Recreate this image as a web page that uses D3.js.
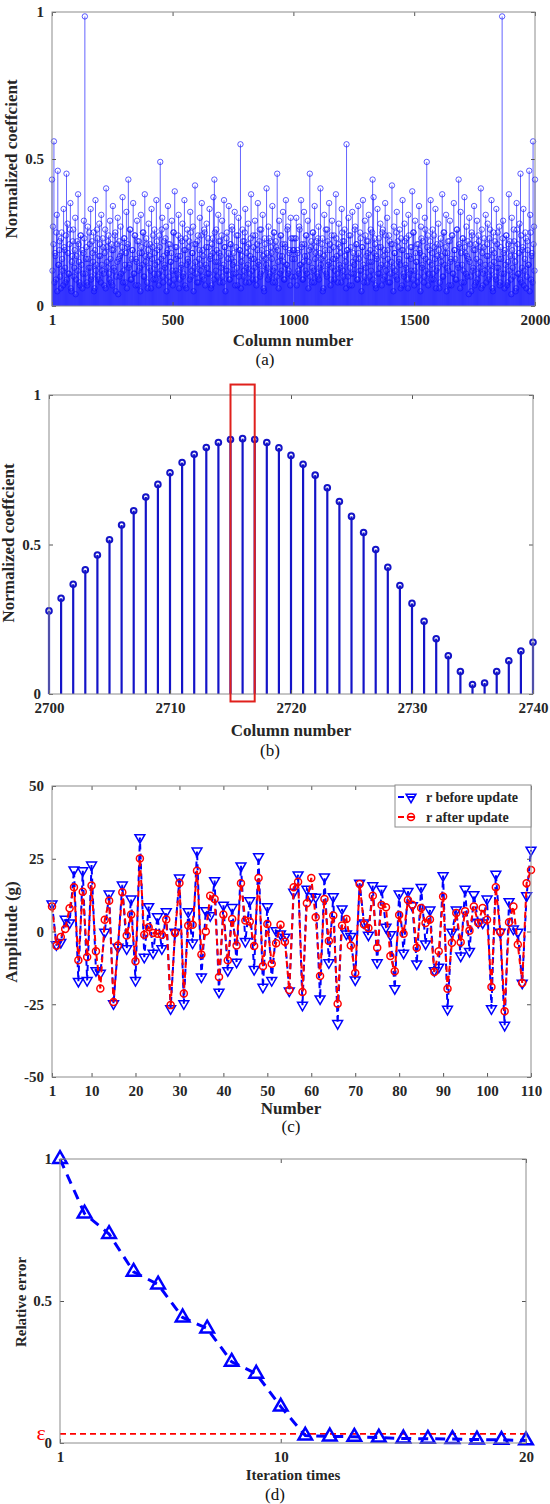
<!DOCTYPE html>
<html>
<head>
<meta charset="utf-8">
<script src="https://cdn.jsdelivr.net/npm/d3@7"></script>
<style>
  body { margin: 0; background: #fff; }
  text { font-family: "Liberation Serif", "Times New Roman", serif; }
</style>
</head>
<body>
<svg id="fig" width="550" height="1504"></svg>
<script>
// ---------- data ----------
// (a) spectrum is symmetric about the middle column, so only the left half is read
// values for columns 1,5,9,...,997 (mirrored onto 2000,1996,...,1004)
const aLeft = [
  0.43,0.27,0.56,0.18,0.09,0.31,0.46,0.14,0.22,0.06,
  0.25,0.12,0.33,0.19,0.08,0.45,0.28,0.11,0.21,0.35,
  0.05,0.17,0.26,0.13,0.30,0.09,0.22,0.38,0.15,0.07,
  0.24,0.19,0.11,0.29,0.985,0.16,0.08,0.27,0.13,0.21,
  0.33,0.10,0.18,0.25,0.06,0.36,0.14,0.23,0.09,0.28,
  0.17,0.31,0.12,0.20,0.07,0.26,0.40,0.15,0.22,0.11,
  0.29,0.08,0.19,0.34,0.13,0.24,0.05,0.21,0.30,0.16,
  0.10,0.27,0.18,0.37,0.12,0.23,0.08,0.32,0.20,0.43,
  0.14,0.26,0.09,0.19,0.35,0.11,0.24,0.16,0.29,0.07,
  0.22,0.13,0.31,0.18,0.25,0.10,0.38,0.15,0.21,0.06,
  0.28,0.17,0.12,0.33,0.20,0.09,0.26,0.14,0.36,0.19,
  0.11,0.24,0.49,0.16,0.30,0.08,0.22,0.13,0.27,0.18,
  0.34,0.10,0.21,0.15,0.29,0.07,0.25,0.39,0.12,0.20,
  0.17,0.31,0.09,0.23,0.14,0.28,0.11,0.36,0.19,0.06,
  0.26,0.15,0.22,0.32,0.10,0.18,0.27,0.13,0.41,0.21,
  0.08,0.24,0.16,0.30,0.12,0.35,0.19,0.09,0.25,0.14,
  0.28,0.11,0.20,0.33,0.17,0.07,0.23,0.37,0.43,0.15,
  0.26,0.10,0.31,0.18,0.22,0.13,0.29,0.08,0.36,0.20,
  0.12,0.25,0.16,0.34,0.09,0.21,0.27,0.14,0.18,0.32,
  0.11,0.24,0.07,0.30,0.19,0.55,0.15,0.26,0.10,0.22,
  0.33,0.13,0.20,0.28,0.08,0.17,0.38,0.12,0.24,0.16,
  0.29,0.09,0.21,0.35,0.14,0.26,0.11,0.19,0.31,0.06,
  0.23,0.16,0.40,0.13,0.27,0.10,0.22,0.18,0.34,0.12,
  0.25,0.08,0.20,0.45,0.15,0.29,0.11,0.24,0.17,0.32,
  0.09,0.21,0.36,0.14,0.27,0.12,0.19,0.30,0.10,0.23
];
// values for columns 3,7,11,...,999 (mirrored onto 1998,1994,...,1002)
const aLeft2 = [
  0.12,0.21,0.08,0.17,0.25,0.05,0.14,0.19,0.10,0.23,
  0.16,0.07,0.20,0.13,0.24,0.09,0.18,0.11,0.26,0.06,
  0.15,0.22,0.10,0.19,0.04,0.17,0.12,0.21,0.08,0.24,
  0.14,0.06,0.18,0.23,0.11,0.20,0.07,0.16,0.25,0.13,
  0.09,0.22,0.15,0.05,0.19,0.12,0.26,0.10,0.17,0.21,
  0.08,0.14,0.23,0.11,0.18,0.06,0.20,0.13,0.24,0.09,
  0.16,0.21,0.07,0.19,0.12,0.25,0.10,0.15,0.04,0.22,
  0.17,0.11,0.20,0.08,0.23,0.14,0.18,0.06,0.21,0.13,
  0.26,0.09,0.16,0.19,0.11,0.24,0.07,0.15,0.22,0.12,
  0.18,0.05,0.20,0.14,0.25,0.10,0.17,0.23,0.08,0.19,
  0.13,0.21,0.06,0.16,0.24,0.11,0.18,0.09,0.22,0.15,
  0.07,0.20,0.12,0.26,0.10,0.17,0.14,0.23,0.05,0.19,
  0.21,0.08,0.15,0.18,0.12,0.25,0.09,0.20,0.16,0.11,
  0.24,0.06,0.17,0.13,0.22,0.10,0.19,0.07,0.23,0.14,
  0.16,0.20,0.09,0.25,0.12,0.18,0.05,0.21,0.15,0.11,
  0.22,0.08,0.19,0.14,0.24,0.10,0.17,0.26,0.07,0.20,
  0.13,0.23,0.11,0.16,0.06,0.21,0.18,0.09,0.25,0.12,
  0.19,0.15,0.22,0.08,0.17,0.24,0.10,0.14,0.20,0.05,
  0.23,0.12,0.18,0.09,0.21,0.16,0.26,0.11,0.15,0.07,
  0.20,0.13,0.24,0.10,0.19,0.06,0.17,0.22,0.12,0.25,
  0.08,0.18,0.14,0.21,0.11,0.23,0.16,0.09,0.20,0.13,
  0.24,0.07,0.19,0.15,0.22,0.10,0.26,0.12,0.17,0.05,
  0.21,0.14,0.18,0.09,0.23,0.11,0.20,0.16,0.08,0.25,
  0.13,0.22,0.10,0.19,0.06,0.17,0.24,0.12,0.21,0.15,
  0.09,0.20,0.14,0.26,0.11,0.18,0.07,0.23,0.16,0.19
];
const aTicks = [1, 500, 1000, 1500, 2000];

// (b)
const bCols = d3.range(2700, 2741);
const bVals = [0.278,0.32,0.367,0.415,0.465,0.516,0.565,0.613,0.659,0.701,
  0.74,0.774,0.802,0.824,0.841,0.851,0.854,0.851,0.841,0.823,
  0.798,0.768,0.732,0.69,0.644,0.594,0.54,0.483,0.424,0.363,
  0.303,0.243,0.185,0.128,0.075,0.032,0.037,0.075,0.111,0.144,0.173];
const bTicks = [2700, 2710, 2720, 2730, 2740];
const bBox = {x0: 2715, x1: 2717, y0: -0.025, y1: 1.035};

// (c)
const cBefore = [9.5,-4.5,-3.7,4.3,3.0,21.2,-17.1,20.9,-16.8,22.9,
  -13.4,-14.3,-0.2,12.9,-24.8,-5.4,16.0,-5.9,11.2,-16.8,
  32.3,-8.8,8.6,-7.4,5.1,-5.9,6.8,-26.5,-0.2,18.4,
  -24.8,6.8,-3.9,27.7,-15.6,7.2,5.5,17.5,-20.8,9.1,
  -13.4,8.3,-10.5,22.6,-3.4,10.6,-13.0,25.7,-19.1,8.6,
  -16.8,0.3,-0.8,-1.9,-20.4,13.5,19.5,-25.3,14.6,12.0,
  11.8,-23.1,18.8,-10.7,12.0,-31.6,7.8,-0.8,-1.7,-16.6,
  16.6,3.0,-1.2,15.8,-10.7,14.6,1.5,-1.1,-19.6,12.9,
  -7.4,13.8,8.9,-11.1,15.2,-4.2,7.4,-13.4,-12.2,19.2,
  -26.7,-0.2,7.4,-8.4,14.6,-6.8,12.7,3.2,3.0,11.2,
  -26.5,19.7,-0.2,-32.2,10.3,0.9,-0.2,-17.7,12.3,28.0];
const cAfter = [8.6,-4.9,-1.9,0.9,8.0,15.2,-9.9,13.7,-8.8,15.8,
  -6.8,-19.6,4.0,10.6,-24.2,-4.8,13.5,-1.4,5.8,-10.2,
  25.1,-1.1,1.5,-0.5,-0.8,-1.1,4.1,-25.3,-0.5,16.7,
  -21.3,2.1,2.3,20.9,-7.9,0.0,12.3,11.2,-15.6,5.8,
  -9.9,4.3,-4.8,16.6,3.8,3.4,-5.0,18.4,-11.9,2.6,
  -11.1,-4.0,2.3,-3.5,-20.1,15.2,17.1,-20.8,9.7,18.4,
  4.9,-15.3,11.2,-3.3,5.5,-24.8,2.1,4.3,-4.8,-14.3,
  16.3,2.4,1.2,12.3,-5.6,9.1,8.3,-8.4,-13.7,5.7,
  -0.8,10.8,9.2,-5.6,8.1,2.9,4.1,-13.9,-6.8,12.0,
  -19.7,-3.9,6.4,-3.7,7.0,0.3,8.6,2.9,8.1,4.0,
  -19.1,15.2,-0.2,-27.4,3.2,8.6,-4.5,-17.7,16.6,21.1];
const cTicksX = [1, 10, 20, 30, 40, 50, 60, 70, 80, 90, 100, 110];
const cTicksY = [-50, -25, 0, 25, 50];
const cLegend = ["r before update", "r after update"];

// (d)
const dErr = [1.0,0.808,0.736,0.603,0.558,0.442,0.403,0.286,0.244,0.128,
  0.026,0.023,0.022,0.019,0.016,0.015,0.014,0.012,0.011,0.009];
const dEps = 0.032;
const dTicks = [1, 10, 20];

// ---------- helpers ----------
const svg = d3.select("#fig");
const FONT = '"Liberation Serif", "Times New Roman", serif';
const ink = "#262626";

function frame(g, x, y, xt, yt) {
  const [l, r] = x.range(), [b, t] = y.range();
  const fmt = d => String(d);
  g.append("g").attr("transform", `translate(0,${b})`)
    .call(d3.axisBottom(x).tickValues(xt).tickSize(-4).tickPadding(8).tickFormat(fmt));
  g.append("g").attr("transform", `translate(0,${t})`)
    .call(d3.axisTop(x).tickValues(xt).tickSize(-4).tickFormat(""));
  g.append("g").attr("transform", `translate(${l},0)`)
    .call(d3.axisLeft(y).tickValues(yt).tickSize(-4).tickPadding(8).tickFormat(fmt));
  g.append("g").attr("transform", `translate(${r},0)`)
    .call(d3.axisRight(y).tickValues(yt).tickSize(-4).tickFormat(""));
  g.selectAll(".domain").remove();
  g.selectAll(".tick line").attr("stroke", "#555");
  g.selectAll(".tick text").attr("font-family", FONT).attr("font-size", 15)
    .attr("font-weight", "bold").attr("fill", ink);
  g.append("rect").attr("x", l).attr("y", t).attr("width", r - l).attr("height", b - t)
    .attr("fill", "none").attr("stroke", "#8c8c8c").attr("stroke-width", 1);
}

function titles(g, xt, xx, xy, yt, yx, yy, caption, cx, cy, fs) {
  g.append("text").attr("x", xx).attr("y", xy).attr("text-anchor", "middle")
    .attr("font-size", fs).attr("font-weight", "bold").attr("fill", ink).text(xt);
  g.append("text").attr("transform", `translate(${yx},${yy}) rotate(-90)`)
    .attr("text-anchor", "middle").attr("font-size", fs).attr("font-weight", "bold")
    .attr("fill", ink).text(yt);
  g.append("text").attr("x", cx).attr("y", cy).attr("text-anchor", "middle")
    .attr("font-size", 17).attr("fill", "#111").text(caption);
}

// ---------- (a) ----------
{
  const g = svg.append("g");
  const x = d3.scaleLinear().domain([1, 2000]).range([52, 535]);
  const y = d3.scaleLinear().domain([0, 1]).range([306, 12]);
  const aData = [];
  aLeft.forEach((v, i) => {
    aData.push({c: 1 + 4 * i, v: v});
    aData.push({c: 2000 - 4 * i, v: v});
  });
  aLeft2.forEach((v, i) => {
    aData.push({c: 3 + 4 * i, v: v});
    aData.push({c: 1998 - 4 * i, v: v});
  });
  g.append("g").selectAll("line").data(aData).join("line")
    .attr("x1", d => x(d.c)).attr("x2", d => x(d.c))
    .attr("y1", y(0)).attr("y2", d => y(d.v))
    .attr("stroke", "#0a0aff").attr("stroke-width", 0.9).attr("stroke-opacity", 0.7);
  g.append("g").selectAll("circle").data(aData).join("circle")
    .attr("cx", d => x(d.c)).attr("cy", d => y(d.v)).attr("r", 2.7)
    .attr("fill", "none").attr("stroke", "#1010ff").attr("stroke-width", 0.8)
    .attr("stroke-opacity", 0.85);
  frame(g, x, y, aTicks, [0, 0.5, 1]);
  titles(g, "Column number", 293, 346, "Normalized coeffcient", 17, 159, "(a)", 265, 365, 17);
}

// ---------- (b) ----------
{
  const g = svg.append("g");
  const x = d3.scaleLinear().domain([2700, 2740]).range([49, 533]);
  const y = d3.scaleLinear().domain([0, 1]).range([694, 395]);
  const bData = bCols.map((c, i) => ({c: c, v: bVals[i]}));
  g.append("g").selectAll("line").data(bData).join("line")
    .attr("x1", d => x(d.c)).attr("x2", d => x(d.c))
    .attr("y1", y(0)).attr("y2", d => y(d.v))
    .attr("stroke", "#1414c8").attr("stroke-width", 2.2);
  g.append("g").selectAll("circle").data(bData).join("circle")
    .attr("cx", d => x(d.c)).attr("cy", d => y(d.v)).attr("r", 2.8)
    .attr("fill", "none").attr("stroke", "#1414c8").attr("stroke-width", 2);
  frame(g, x, y, bTicks, [0, 0.5, 1]);
  g.append("rect").attr("x", x(bBox.x0)).attr("y", y(bBox.y1))
    .attr("width", x(bBox.x1) - x(bBox.x0)).attr("height", y(bBox.y0) - y(bBox.y1))
    .attr("fill", "none").attr("stroke", "#e0201c").attr("stroke-width", 2);
  titles(g, "Column number", 291, 736, "Normalized coeffcient", 14, 543, "(b)", 270, 756, 17);
}

// ---------- (c) ----------
{
  const g = svg.append("g");
  const x = d3.scaleLinear().domain([1, 110]).range([52, 531]);
  const y = d3.scaleLinear().domain([-50, 50]).range([1077, 786]);
  const line = d3.line().x((d, i) => x(i + 1)).y(d => y(d));
  const tri = d3.symbol().type(d3.symbolTriangle).size(42);
  g.append("path").datum(cBefore).attr("d", line).attr("fill", "none")
    .attr("stroke", "#0000ff").attr("stroke-width", 2).attr("stroke-dasharray", "6,4");
  g.append("g").selectAll("path").data(cBefore).join("path")
    .attr("d", tri).attr("transform", (d, i) => `translate(${x(i + 1)},${y(d)}) rotate(180)`)
    .attr("fill", "none").attr("stroke", "#0000ff").attr("stroke-width", 1.5);
  g.append("path").datum(cAfter).attr("d", line).attr("fill", "none")
    .attr("stroke", "#ff0000").attr("stroke-width", 2).attr("stroke-dasharray", "6,4");
  g.append("g").selectAll("circle").data(cAfter).join("circle")
    .attr("cx", (d, i) => x(i + 1)).attr("cy", d => y(d)).attr("r", 3.5)
    .attr("fill", "none").attr("stroke", "#ff0000").attr("stroke-width", 1.5);
  frame(g, x, y, cTicksX, cTicksY);
  // legend
  const lg = g.append("g").attr("transform", "translate(395,785)");
  lg.append("rect").attr("width", 136).attr("height", 42).attr("fill", "#fff")
    .attr("stroke", "#8c8c8c");
  const cols = ["#0000ff", "#ff0000"];
  cLegend.forEach((t, i) => {
    const yy = 12 + i * 20;
    lg.append("line").attr("x1", 3).attr("x2", 22).attr("y1", yy).attr("y2", yy)
      .attr("stroke", cols[i]).attr("stroke-width", 2).attr("stroke-dasharray", "6,4");
    if (i === 0) {
      lg.append("path").attr("d", tri).attr("transform", `translate(16,${yy}) rotate(180)`)
        .attr("fill", "none").attr("stroke", cols[i]).attr("stroke-width", 1.5);
    } else {
      lg.append("circle").attr("cx", 16).attr("cy", yy).attr("r", 3.5)
        .attr("fill", "none").attr("stroke", cols[i]).attr("stroke-width", 1.5);
    }
    lg.append("text").attr("x", 31).attr("y", yy + 5).attr("font-size", 14)
      .attr("font-weight", "bold").attr("fill", ink).text(t);
  });
  titles(g, "Number", 291, 1114, "Amplitude (g)", 17, 932, "(c)", 291, 1132, 17);
}

// ---------- (d) ----------
{
  const g = svg.append("g");
  const x = d3.scaleLinear().domain([1, 20]).range([60, 526]);
  const y = d3.scaleLinear().domain([0, 1]).range([1443, 1159]);
  g.append("line").attr("x1", x(1)).attr("x2", x(20)).attr("y1", y(dEps)).attr("y2", y(dEps))
    .attr("stroke", "#ff0000").attr("stroke-width", 1.6).attr("stroke-dasharray", "6,4");
  const line = d3.line().x((d, i) => x(i + 1)).y(d => y(d));
  g.append("path").datum(dErr).attr("d", line).attr("fill", "none")
    .attr("stroke", "#0000ff").attr("stroke-width", 3).attr("stroke-dasharray", "10,7");
  const tri = d3.symbol().type(d3.symbolTriangle).size(80);
  g.append("g").selectAll("path").data(dErr).join("path")
    .attr("d", tri).attr("transform", (d, i) => `translate(${x(i + 1)},${y(d)})`)
    .attr("fill", "none").attr("stroke", "#0000ff").attr("stroke-width", 2.5);
  frame(g, x, y, dTicks, [0, 0.5, 1]);
  g.append("text").attr("x", 41).attr("y", y(dEps) + 6).attr("text-anchor", "middle")
    .attr("font-size", 22).attr("fill", "#ff0000").text("ε");
  titles(g, "Iteration times", 293, 1480, "Relative error", 26, 1302, "(d)", 275, 1500, 15);
}
</script>
</body>
</html>
